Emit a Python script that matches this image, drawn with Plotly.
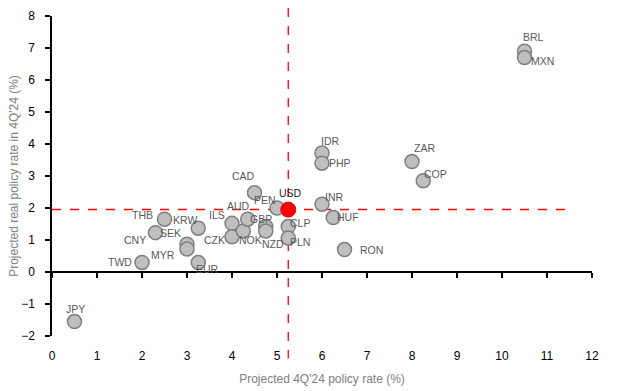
import plotly.graph_objects as go

currencies = ["JPY", "TWD", "CNY", "THB", "SEK", "MYR", "KRW", "EUR", "ILS", "CZK",
              "NOK", "AUD", "GBP", "NZD", "CAD", "PEN", "CLP", "PLN", "IDR", "PHP",
              "INR", "HUF", "RON", "ZAR", "COP", "BRL", "MXN"]
policy_rate = [0.5, 2.0, 2.3, 2.5, 3.0, 3.0, 3.25, 3.25, 4.0, 4.0,
               4.25, 4.35, 4.75, 4.75, 4.5, 5.0, 5.25, 5.25, 6.0, 6.0,
               6.0, 6.25, 6.5, 8.0, 8.25, 10.5, 10.5]
real_rate = [-1.55, 0.3, 1.23, 1.65, 0.87, 0.72, 1.37, 0.3, 1.52, 1.1,
             1.28, 1.65, 1.42, 1.28, 2.48, 2.0, 1.42, 1.06, 3.72, 3.4,
             2.12, 1.7, 0.7, 3.45, 2.85, 6.9, 6.7]

usd_label = "USD"
usd_policy = 5.25
usd_real = 1.95

x_ticks = list(range(0, 13))
y_ticks = list(range(-2, 9))

# label pixel offsets (dx right, dy down) - styling only
label_offsets = {
    "JPY": (1, -13), "TWD": (-22, 0), "CNY": (-21, 7), "THB": (-22, -4),
    "SEK": (-17, -11), "MYR": (-24, 6), "KRW": (-13, -8), "EUR": (9, 7),
    "ILS": (-15, -8), "CZK": (-18, 3), "NOK": (7, 9), "AUD": (-9, -13),
    "GBP": (-5, -8), "NZD": (7, 13), "CAD": (-11, -17), "PEN": (-12, -8),
    "CLP": (12, -4), "PLN": (12, 4), "IDR": (8, -12), "PHP": (18, 0),
    "INR": (12, -7), "HUF": (15, -1), "RON": (27, 0), "ZAR": (12, -14),
    "COP": (12, -7), "BRL": (9, -14), "MXN": (18, 3),
}

label_font = dict(family="Liberation Sans, Arial", size=10.5, color="#595959")
narrow = "Liberation Sans Narrow, Arial Narrow, Liberation Sans, Arial"

fig = go.Figure()

fig.add_trace(go.Scatter(
    x=policy_rate, y=real_rate, mode="markers",
    marker=dict(size=14, color="#BFBFBF", line=dict(color="#7F7F7F", width=1.5)),
    showlegend=False, hoverinfo="skip",
))
fig.add_trace(go.Scatter(
    x=[usd_policy], y=[usd_real], mode="markers",
    marker=dict(size=15, color="#FF0000", line=dict(color="#E00000", width=1)),
    showlegend=False, hoverinfo="skip",
))

# x-axis tick marks along y=0 (overlay axis)
fig.add_trace(go.Scatter(x=[None], y=[None], xaxis="x2", showlegend=False))

annotations = []
for c, xv, yv in zip(currencies, policy_rate, real_rate):
    dx, dy = label_offsets[c]
    annotations.append(dict(x=xv, y=yv, text=c, showarrow=False, xshift=dx, yshift=-dy,
                            font=label_font))
annotations.append(dict(x=usd_policy, y=usd_real, text=usd_label, showarrow=False,
                        xshift=2, yshift=17,
                        font=dict(family="Liberation Sans, Arial", size=10.5, color="#262626")))

shapes = [
    dict(type="line", xref="x", yref="paper", x0=usd_policy, x1=usd_policy, y0=1.025, y1=-0.07,
         line=dict(color="rgb(255,0,0)", width=1.3, dash="dash"), layer="below"),
    dict(type="line", xref="x", yref="y", x0=0, x1=11.6, y0=usd_real, y1=usd_real,
         line=dict(color="rgb(255,0,0)", width=1.5, dash="dash"), layer="below"),
]

fig.update_layout(
    width=618, height=391,
    margin=dict(l=52, r=26, t=16, b=55, autoexpand=False),
    plot_bgcolor="white", paper_bgcolor="white",
    annotations=annotations, shapes=shapes,
    xaxis=dict(range=[0, 12], tickvals=x_ticks, ticks="", showline=False,
               showgrid=False, zeroline=False, automargin=False,
               tickfont=dict(family=narrow, size=12, color="#000000"),
               ticklabelstandoff=11,
               title=dict(text="Projected 4Q'24 policy rate (%)", standoff=12,
                          font=dict(family=narrow, size=12, color="#808080"))),
    xaxis2=dict(range=[0, 12], tickvals=x_ticks, overlaying="x", anchor="free",
                position=0.2, side="bottom", ticks="outside", ticklen=5,
                tickcolor="black", tickwidth=1.5, showline=True, linecolor="black",
                linewidth=1.5, showticklabels=False, showgrid=False, zeroline=False,
                automargin=False),
    yaxis=dict(range=[-2, 8], tickvals=y_ticks, ticks="outside", ticklen=5,
               tickcolor="black", tickwidth=1.5, showline=True, linecolor="black",
               linewidth=1.5, showgrid=False, zeroline=False, automargin=False,
               tickfont=dict(family=narrow, size=12, color="#000000"),
               ticklabelstandoff=8,
               title=dict(text="Projected real policy rate in 4Q'24 (%)", standoff=0,
                          font=dict(family=narrow, size=12, color="#808080"))),
)

fig.write_html("out.html", config={"displayModeBar": False},
               post_script="document.body.style.margin='0';")
